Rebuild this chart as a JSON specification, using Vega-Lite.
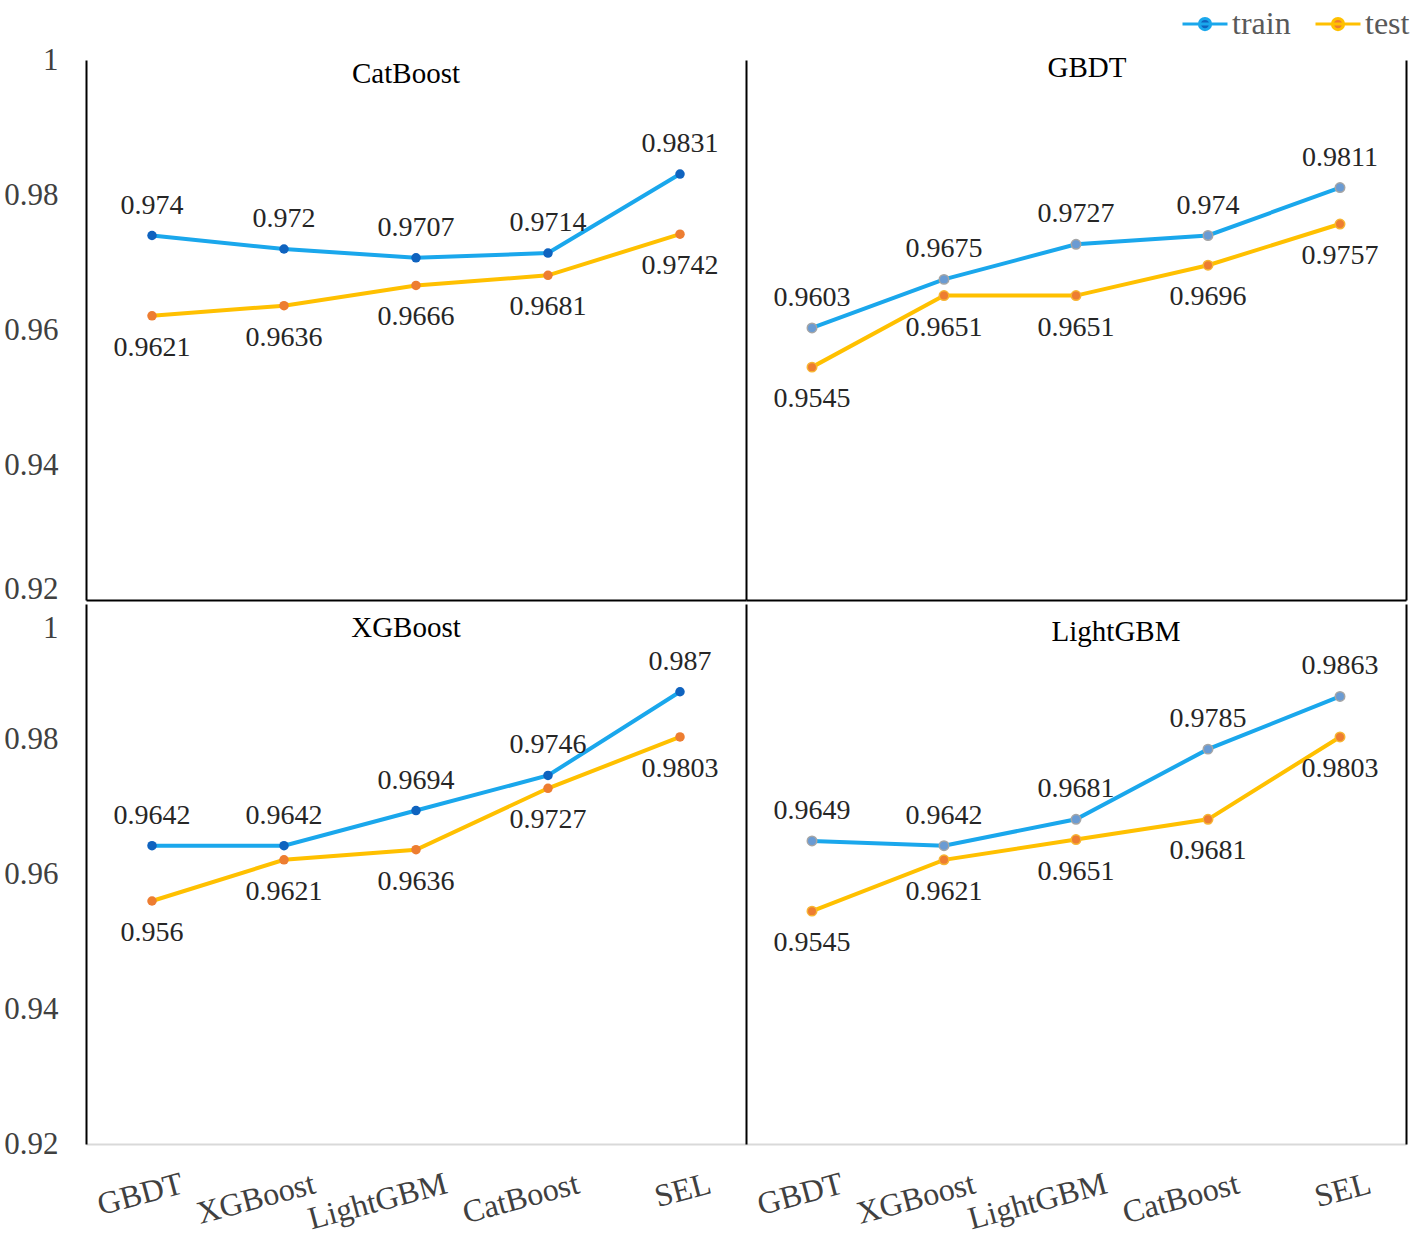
{
  "$schema": "https://vega.github.io/schema/vega-lite/v6.json",
  "background": "white",
  "padding": {"left": 3, "top": 0, "right": 2, "bottom": 2},
  "datasets": {
    "scores": [
      {"panel": "CatBoost", "series": "train", "model": "GBDT", "value": 0.974},
      {"panel": "CatBoost", "series": "train", "model": "XGBoost", "value": 0.972},
      {"panel": "CatBoost", "series": "train", "model": "LightGBM", "value": 0.9707},
      {"panel": "CatBoost", "series": "train", "model": "CatBoost", "value": 0.9714},
      {"panel": "CatBoost", "series": "train", "model": "SEL", "value": 0.9831},
      {"panel": "CatBoost", "series": "test", "model": "GBDT", "value": 0.9621},
      {"panel": "CatBoost", "series": "test", "model": "XGBoost", "value": 0.9636},
      {"panel": "CatBoost", "series": "test", "model": "LightGBM", "value": 0.9666},
      {"panel": "CatBoost", "series": "test", "model": "CatBoost", "value": 0.9681},
      {"panel": "CatBoost", "series": "test", "model": "SEL", "value": 0.9742},
      {"panel": "GBDT", "series": "train", "model": "GBDT", "value": 0.9603},
      {"panel": "GBDT", "series": "train", "model": "XGBoost", "value": 0.9675},
      {"panel": "GBDT", "series": "train", "model": "LightGBM", "value": 0.9727},
      {"panel": "GBDT", "series": "train", "model": "CatBoost", "value": 0.974},
      {"panel": "GBDT", "series": "train", "model": "SEL", "value": 0.9811},
      {"panel": "GBDT", "series": "test", "model": "GBDT", "value": 0.9545},
      {"panel": "GBDT", "series": "test", "model": "XGBoost", "value": 0.9651},
      {"panel": "GBDT", "series": "test", "model": "LightGBM", "value": 0.9651},
      {"panel": "GBDT", "series": "test", "model": "CatBoost", "value": 0.9696},
      {"panel": "GBDT", "series": "test", "model": "SEL", "value": 0.9757},
      {"panel": "XGBoost", "series": "train", "model": "GBDT", "value": 0.9642},
      {"panel": "XGBoost", "series": "train", "model": "XGBoost", "value": 0.9642},
      {"panel": "XGBoost", "series": "train", "model": "LightGBM", "value": 0.9694},
      {"panel": "XGBoost", "series": "train", "model": "CatBoost", "value": 0.9746},
      {"panel": "XGBoost", "series": "train", "model": "SEL", "value": 0.987},
      {"panel": "XGBoost", "series": "test", "model": "GBDT", "value": 0.956},
      {"panel": "XGBoost", "series": "test", "model": "XGBoost", "value": 0.9621},
      {"panel": "XGBoost", "series": "test", "model": "LightGBM", "value": 0.9636},
      {"panel": "XGBoost", "series": "test", "model": "CatBoost", "value": 0.9727},
      {"panel": "XGBoost", "series": "test", "model": "SEL", "value": 0.9803},
      {"panel": "LightGBM", "series": "train", "model": "GBDT", "value": 0.9649},
      {"panel": "LightGBM", "series": "train", "model": "XGBoost", "value": 0.9642},
      {"panel": "LightGBM", "series": "train", "model": "LightGBM", "value": 0.9681},
      {"panel": "LightGBM", "series": "train", "model": "CatBoost", "value": 0.9785},
      {"panel": "LightGBM", "series": "train", "model": "SEL", "value": 0.9863},
      {"panel": "LightGBM", "series": "test", "model": "GBDT", "value": 0.9545},
      {"panel": "LightGBM", "series": "test", "model": "XGBoost", "value": 0.9621},
      {"panel": "LightGBM", "series": "test", "model": "LightGBM", "value": 0.9651},
      {"panel": "LightGBM", "series": "test", "model": "CatBoost", "value": 0.9681},
      {"panel": "LightGBM", "series": "test", "model": "SEL", "value": 0.9803}
    ]
  },
  "data": {"name": "scores"},
  "spacing": 0,
  "vconcat": [
    {
      "spacing": 0,
      "hconcat": [
        {
          "width": 660,
          "height": 540,
          "transform": [{"filter": "datum.panel === 'CatBoost'"}],
          "encoding": {
            "x": {"field": "model", "type": "nominal", "sort": ["GBDT", "XGBoost", "LightGBM", "CatBoost", "SEL"], "scale": {"type": "point", "padding": 0.5}, "axis": {"title": null, "labels": false, "domainColor": "#000000"}},
            "y": {"field": "value", "type": "quantitative", "scale": {"domain": [0.92, 1], "zero": false, "nice": false}, "axis": {"title": null, "values": [0.92, 0.94, 0.96, 0.98, 1], "format": "~g", "labelPadding": 28, "labelOffset": {"condition": {"test": "datum.value < 0.925", "value": -11}, "value": 0}}}
          },
          "layer": [
            {"mark": {"type": "line", "strokeWidth": 4}, "encoding": {"color": {"field": "series", "type": "nominal", "scale": {"domain": ["train", "test"], "range": ["#1AA7EC", "#FFC000"]}, "legend": {"title": null, "encode": {"symbols": {"update": {"fill": [{"test": "datum.value === 'train'", "value": "#0F63BF"}, {"value": "#ED7D31"}]}}}}}, "order": {"value": null}}},
            {"mark": {"type": "point", "filled": true, "size": 90, "opacity": 1}, "encoding": {"color": {"condition": {"test": "datum.series === 'train'", "value": "#0F63BF"}, "value": "#ED7D31"}}},
            {"transform": [{"filter": "datum.series === 'train'"}], "mark": {"type": "text", "dy": -30, "font": "Liberation Serif", "fontSize": 28, "color": "#262626"}, "encoding": {"text": {"field": "value", "type": "quantitative", "format": "~g"}}},
            {"transform": [{"filter": "datum.series === 'test'"}], "mark": {"type": "text", "dy": 32, "font": "Liberation Serif", "fontSize": 28, "color": "#262626"}, "encoding": {"text": {"field": "value", "type": "quantitative", "format": "~g"}}},
            {"transform": [{"filter": "datum.series === 'train' && datum.model === 'LightGBM'"}], "mark": {"type": "text", "dx": -10, "font": "Liberation Serif", "fontSize": 29, "color": "#000000"}, "encoding": {"text": {"field": "panel"}, "y": {"datum": 0.998}}}
          ]
        },
        {
          "width": 660,
          "height": 540,
          "transform": [{"filter": "datum.panel === 'GBDT'"}],
          "resolve": {"axis": {"y": "independent"}},
          "encoding": {
            "x": {"field": "model", "type": "nominal", "sort": ["GBDT", "XGBoost", "LightGBM", "CatBoost", "SEL"], "scale": {"type": "point", "padding": 0.5}, "axis": {"title": null, "labels": false, "domainColor": "#000000"}}
          },
          "layer": [
            {"mark": {"type": "line", "strokeWidth": 4}, "encoding": {"y": {"field": "value", "type": "quantitative", "scale": {"domain": [0.92, 1], "zero": false, "nice": false}, "axis": {"title": null, "labels": false, "orient": "left"}}, "color": {"field": "series", "type": "nominal", "scale": {"domain": ["train", "test"], "range": ["#1AA7EC", "#FFC000"]}, "legend": {"title": null, "encode": {"symbols": {"update": {"fill": [{"test": "datum.value === 'train'", "value": "#0F63BF"}, {"value": "#ED7D31"}]}}}}}, "order": {"value": null}}},
            {"mark": {"type": "point", "filled": true, "size": 90, "opacity": 1, "strokeWidth": 1.5}, "encoding": {"y": {"field": "value", "type": "quantitative", "axis": null}, "color": {"condition": {"test": "datum.series === 'train'", "value": "#6A9BD3"}, "value": "#ED7D31"}, "stroke": {"condition": {"test": "datum.series === 'train'", "value": "#A5A5A5"}, "value": "#F7B532"}}},
            {"transform": [{"filter": "datum.series === 'train'"}], "mark": {"type": "text", "dy": -30, "font": "Liberation Serif", "fontSize": 28, "color": "#262626"}, "encoding": {"y": {"field": "value", "type": "quantitative", "axis": null}, "text": {"field": "value", "type": "quantitative", "format": "~g"}}},
            {"transform": [{"filter": "datum.series === 'test'"}], "mark": {"type": "text", "dy": 32, "font": "Liberation Serif", "fontSize": 28, "color": "#262626"}, "encoding": {"y": {"field": "value", "type": "quantitative", "axis": {"title": null, "labels": false, "orient": "right"}}, "text": {"field": "value", "type": "quantitative", "format": "~g"}}},
            {"transform": [{"filter": "datum.series === 'train' && datum.model === 'LightGBM'"}], "mark": {"type": "text", "dx": 11, "font": "Liberation Serif", "fontSize": 29, "color": "#000000"}, "encoding": {"text": {"field": "panel"}, "y": {"datum": 0.9988, "axis": null}}}
          ]
        }
      ]
    },
    {
      "spacing": 0,
      "hconcat": [
        {
          "width": 660,
          "height": 540,
          "transform": [{"filter": "datum.panel === 'XGBoost'"}],
          "encoding": {
            "x": {"field": "model", "type": "nominal", "sort": ["GBDT", "XGBoost", "LightGBM", "CatBoost", "SEL"], "scale": {"type": "point", "padding": 0.5}, "axis": {"title": null, "labelAngle": -15, "labelAlign": "right", "labelBaseline": "top", "labelOffset": 26, "labelPadding": 24, "labelFontSize": 32, "domainColor": "#D9D9D9", "labelColor": "#404040"}},
            "y": {"field": "value", "type": "quantitative", "scale": {"domain": [0.92, 1], "zero": false, "nice": false}, "axis": {"title": null, "values": [0.92, 0.94, 0.96, 0.98, 1], "format": "~g", "labelPadding": 28, "labelOffset": {"condition": {"test": "datum.value > 0.995", "value": 24}, "value": 0}}}
          },
          "layer": [
            {"mark": {"type": "line", "strokeWidth": 4}, "encoding": {"color": {"field": "series", "type": "nominal", "scale": {"domain": ["train", "test"], "range": ["#1AA7EC", "#FFC000"]}, "legend": {"title": null, "encode": {"symbols": {"update": {"fill": [{"test": "datum.value === 'train'", "value": "#0F63BF"}, {"value": "#ED7D31"}]}}}}}, "order": {"value": null}}},
            {"mark": {"type": "point", "filled": true, "size": 90, "opacity": 1}, "encoding": {"color": {"condition": {"test": "datum.series === 'train'", "value": "#0F63BF"}, "value": "#ED7D31"}}},
            {"transform": [{"filter": "datum.series === 'train'"}], "mark": {"type": "text", "dy": -30, "font": "Liberation Serif", "fontSize": 28, "color": "#262626"}, "encoding": {"text": {"field": "value", "type": "quantitative", "format": "~g"}}},
            {"transform": [{"filter": "datum.series === 'test'"}], "mark": {"type": "text", "dy": 32, "font": "Liberation Serif", "fontSize": 28, "color": "#262626"}, "encoding": {"text": {"field": "value", "type": "quantitative", "format": "~g"}}},
            {"transform": [{"filter": "datum.series === 'train' && datum.model === 'LightGBM'"}], "mark": {"type": "text", "dx": -10, "font": "Liberation Serif", "fontSize": 29, "color": "#000000"}, "encoding": {"text": {"field": "panel"}, "y": {"datum": 0.9965}}}
          ]
        },
        {
          "width": 660,
          "height": 540,
          "transform": [{"filter": "datum.panel === 'LightGBM'"}],
          "resolve": {"axis": {"y": "independent"}},
          "encoding": {
            "x": {"field": "model", "type": "nominal", "sort": ["GBDT", "XGBoost", "LightGBM", "CatBoost", "SEL"], "scale": {"type": "point", "padding": 0.5}, "axis": {"title": null, "labelAngle": -15, "labelAlign": "right", "labelBaseline": "top", "labelOffset": 26, "labelPadding": 24, "labelFontSize": 32, "domainColor": "#D9D9D9", "labelColor": "#404040"}}
          },
          "layer": [
            {"mark": {"type": "line", "strokeWidth": 4}, "encoding": {"y": {"field": "value", "type": "quantitative", "scale": {"domain": [0.92, 1], "zero": false, "nice": false}, "axis": {"title": null, "labels": false, "orient": "left"}}, "color": {"field": "series", "type": "nominal", "scale": {"domain": ["train", "test"], "range": ["#1AA7EC", "#FFC000"]}, "legend": {"title": null, "encode": {"symbols": {"update": {"fill": [{"test": "datum.value === 'train'", "value": "#0F63BF"}, {"value": "#ED7D31"}]}}}}}, "order": {"value": null}}},
            {"mark": {"type": "point", "filled": true, "size": 90, "opacity": 1, "strokeWidth": 1.5}, "encoding": {"y": {"field": "value", "type": "quantitative", "axis": null}, "color": {"condition": {"test": "datum.series === 'train'", "value": "#6A9BD3"}, "value": "#ED7D31"}, "stroke": {"condition": {"test": "datum.series === 'train'", "value": "#A5A5A5"}, "value": "#F7B532"}}},
            {"transform": [{"filter": "datum.series === 'train'"}], "mark": {"type": "text", "dy": -30, "font": "Liberation Serif", "fontSize": 28, "color": "#262626"}, "encoding": {"y": {"field": "value", "type": "quantitative", "axis": null}, "text": {"field": "value", "type": "quantitative", "format": "~g"}}},
            {"transform": [{"filter": "datum.series === 'test'"}], "mark": {"type": "text", "dy": 32, "font": "Liberation Serif", "fontSize": 28, "color": "#262626"}, "encoding": {"y": {"field": "value", "type": "quantitative", "axis": {"title": null, "labels": false, "orient": "right"}}, "text": {"field": "value", "type": "quantitative", "format": "~g"}}},
            {"transform": [{"filter": "datum.series === 'train' && datum.model === 'LightGBM'"}], "mark": {"type": "text", "dx": 40, "font": "Liberation Serif", "fontSize": 29, "color": "#000000"}, "encoding": {"text": {"field": "panel"}, "y": {"datum": 0.9958, "axis": null}}}
          ]
        }
      ]
    }
  ],
  "config": {
    "view": {"stroke": null},
    "axis": {"labelFont": "Liberation Serif", "labelFontSize": 31, "labelColor": "#404040", "ticks": false, "grid": false, "domainColor": "#000000", "domainWidth": 2},
    "legend": {
      "orient": "none",
      "legendX": 1095,
      "legendY": -60,
      "direction": "horizontal",
      "labelFont": "Liberation Serif",
      "labelFontSize": 32,
      "labelColor": "#595959",
      "labelOffset": 3,
      "columnPadding": 18,
      "symbolType": "M-1,0L1,0M0.25,0A0.25,0.25,0,1,1,-0.25,0A0.25,0.25,0,1,1,0.25,0",
      "symbolSize": 2025,
      "symbolStrokeWidth": 3
    }
  }
}
